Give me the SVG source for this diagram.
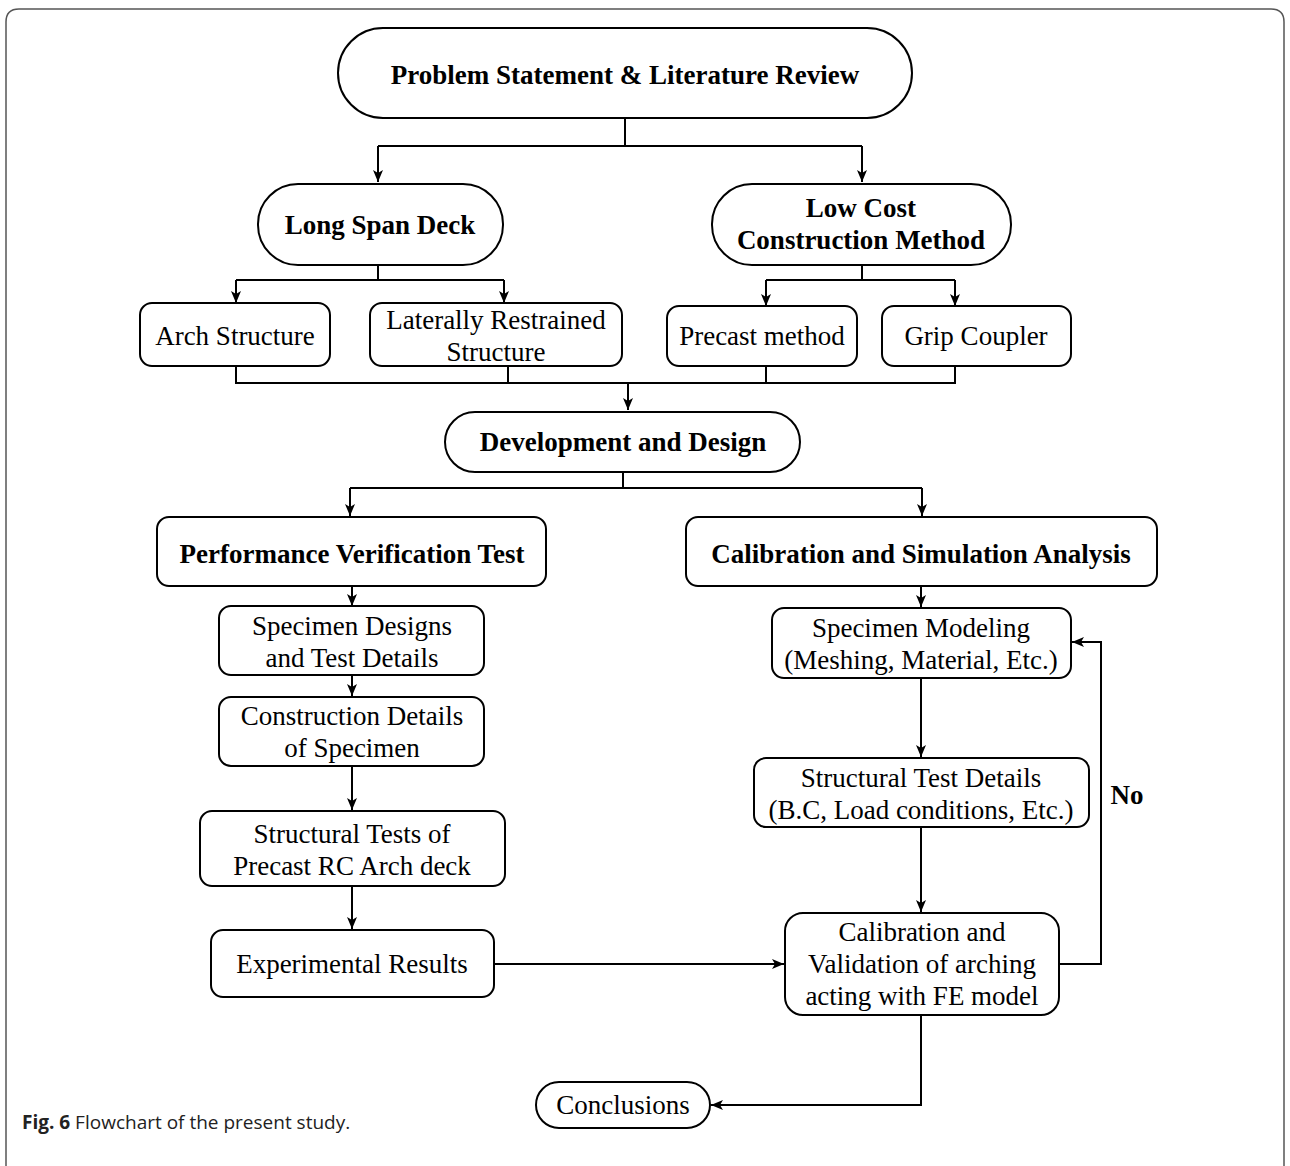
<svg xmlns="http://www.w3.org/2000/svg" width="1290" height="1166" viewBox="0 0 1290 1166">
<defs>
<marker id="ah" viewBox="0 0 12 10" refX="12" refY="5" markerWidth="12" markerHeight="10" markerUnits="userSpaceOnUse" orient="auto">
<path d="M0,0 L12,5 L0,10 L3,5 Z" fill="#000"/>
</marker>
</defs>
<style>
.b{fill:#fff;stroke:#000;stroke-width:2}
.c{fill:none;stroke:#000;stroke-width:2}
.t{font-family:"Liberation Serif","Times New Roman",serif;font-size:27px;fill:#000;text-anchor:middle}
.tb{font-weight:bold}
.cap{font-family:"Open Sans","Noto Sans",sans-serif;font-size:19px;fill:#222}
</style>
<rect width="1290" height="1166" fill="#fff"/>
<path d="M6,1166 L6,22 Q6,9 19,9 L1271,9 Q1284,9 1284,22 L1284,1166" fill="none" stroke="#555" stroke-width="1.5"/>

<g id="connectors">
<path class="c" d="M625,118 V146 M378,146 H862"/>
<path class="c" d="M378,146 V182" marker-end="url(#ah)"/>
<path class="c" d="M862,146 V182" marker-end="url(#ah)"/>
<path class="c" d="M378,265 V280 M236,280 H504"/>
<path class="c" d="M236,280 V303" marker-end="url(#ah)"/>
<path class="c" d="M504,280 V303" marker-end="url(#ah)"/>
<path class="c" d="M862,265 V280 M766,280 H955"/>
<path class="c" d="M766,280 V306" marker-end="url(#ah)"/>
<path class="c" d="M955,280 V306" marker-end="url(#ah)"/>
<path class="c" d="M236,366 V383 M508,366 V383 M766,366 V383 M955,366 V383 M235,383 H956"/>
<path class="c" d="M628,383 V410" marker-end="url(#ah)"/>
<path class="c" d="M623,472 V488 M350,488 H922"/>
<path class="c" d="M350,488 V516" marker-end="url(#ah)"/>
<path class="c" d="M922,488 V516" marker-end="url(#ah)"/>
<path class="c" d="M352,586 V606" marker-end="url(#ah)"/>
<path class="c" d="M352,675 V696" marker-end="url(#ah)"/>
<path class="c" d="M352,766 V810" marker-end="url(#ah)"/>
<path class="c" d="M352,886 V929" marker-end="url(#ah)"/>
<path class="c" d="M494,964 H784" marker-end="url(#ah)"/>
<path class="c" d="M921,586 V607" marker-end="url(#ah)"/>
<path class="c" d="M921,678 V757" marker-end="url(#ah)"/>
<path class="c" d="M921,827 V912" marker-end="url(#ah)"/>
<path class="c" d="M1059,964 H1101 V642 H1072" marker-end="url(#ah)"/>
<path class="c" d="M921,1015 V1105 H711" marker-end="url(#ah)"/>
<text class="t tb" x="1127" y="804">No</text>
</g>

<g id="n1"><rect class="b" x="338" y="28" width="574" height="90" rx="45"/><text class="t tb" x="625" y="84">Problem Statement &amp; Literature Review</text></g>
<g id="n2"><rect class="b" x="258" y="184" width="245" height="81" rx="40"/><text class="t tb" x="380" y="234">Long Span Deck</text></g>
<g id="n3"><rect class="b" x="712" y="184" width="299" height="81" rx="40"/><text class="t tb" x="861" y="217">Low Cost</text><text class="t tb" x="861" y="249">Construction Method</text></g>
<g id="n4"><rect class="b" x="140" y="303" width="190" height="63" rx="12"/><text class="t" x="235" y="345">Arch Structure</text></g>
<g id="n5"><rect class="b" x="370" y="303" width="252" height="63" rx="12"/><text class="t" x="496" y="329">Laterally Restrained</text><text class="t" x="496" y="361">Structure</text></g>
<g id="n6"><rect class="b" x="667" y="306" width="190" height="60" rx="12"/><text class="t" x="762" y="345">Precast method</text></g>
<g id="n7"><rect class="b" x="882" y="306" width="189" height="60" rx="12"/><text class="t" x="976" y="345">Grip Coupler</text></g>
<g id="n8"><rect class="b" x="445" y="412" width="355" height="60" rx="30"/><text class="t tb" x="623" y="451">Development and Design</text></g>
<g id="n9"><rect class="b" x="157" y="517" width="389" height="69" rx="12"/><text class="t tb" x="352" y="563">Performance Verification Test</text></g>
<g id="n10"><rect class="b" x="686" y="517" width="471" height="69" rx="12"/><text class="t tb" x="921" y="563">Calibration and Simulation Analysis</text></g>
<g id="n11"><rect class="b" x="219" y="606" width="265" height="69" rx="12"/><text class="t" x="352" y="635">Specimen Designs</text><text class="t" x="352" y="667">and Test Details</text></g>
<g id="n12"><rect class="b" x="219" y="697" width="265" height="69" rx="12"/><text class="t" x="352" y="725">Construction Details</text><text class="t" x="352" y="757">of Specimen</text></g>
<g id="n13"><rect class="b" x="200" y="811" width="305" height="75" rx="12"/><text class="t" x="352" y="843">Structural Tests of</text><text class="t" x="352" y="875">Precast RC Arch deck</text></g>
<g id="n14"><rect class="b" x="211" y="930" width="283" height="67" rx="12"/><text class="t" x="352" y="973">Experimental Results</text></g>
<g id="n15"><rect class="b" x="772" y="608" width="299" height="70" rx="12"/><text class="t" x="921" y="637">Specimen Modeling</text><text class="t" x="921" y="669">(Meshing, Material, Etc.)</text></g>
<g id="n16"><rect class="b" x="754" y="758" width="335" height="69" rx="12"/><text class="t" x="921" y="787">Structural Test Details</text><text class="t" x="921" y="819">(B.C, Load conditions, Etc.)</text></g>
<g id="n17"><rect class="b" x="785" y="913" width="274" height="102" rx="18"/><text class="t" x="922" y="941">Calibration and</text><text class="t" x="922" y="973">Validation of arching</text><text class="t" x="922" y="1005">acting with FE model</text></g>
<g id="n18"><rect class="b" x="536" y="1082" width="174" height="46" rx="23"/><text class="t" x="623" y="1114">Conclusions</text></g>

<text class="cap" x="22" y="1129"><tspan font-weight="bold">Fig. 6</tspan>  Flowchart of the present study.</text>
</svg>
